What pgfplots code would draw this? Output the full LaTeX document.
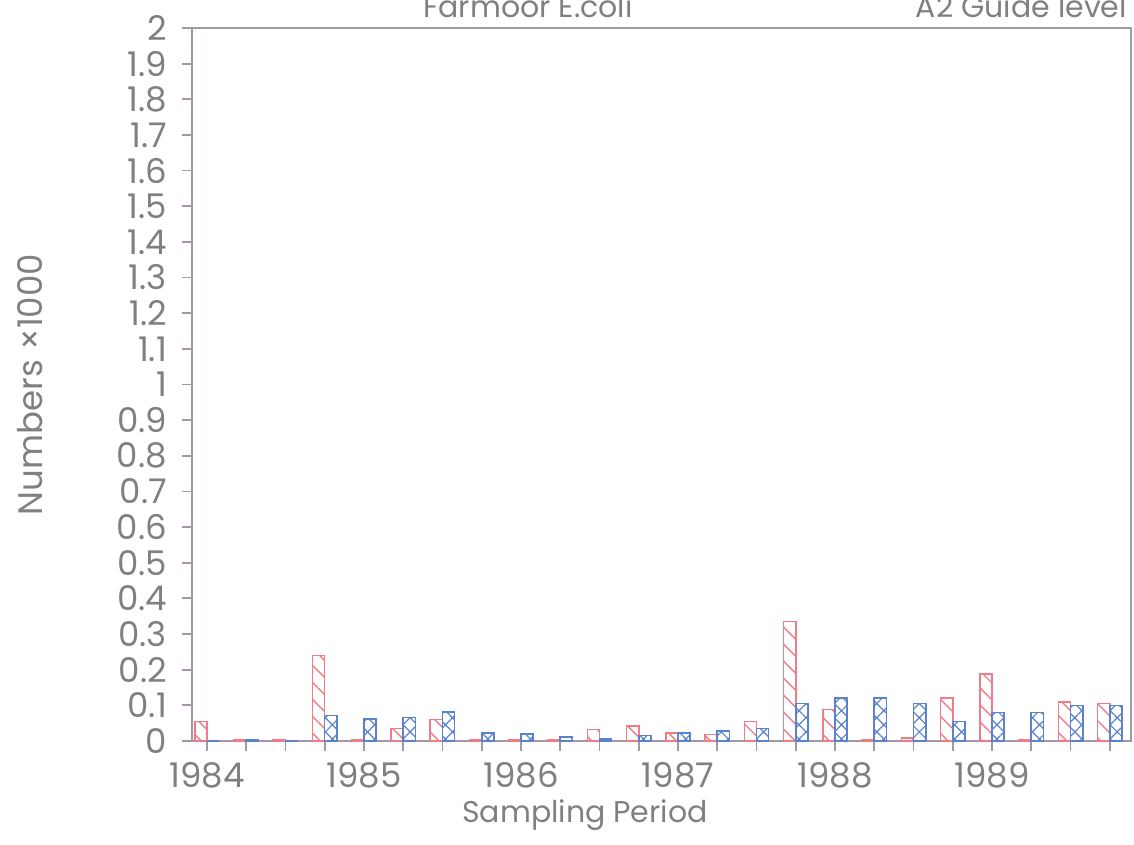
\documentclass[border=0pt]{standalone}
\usepackage{pgfplots}
\pgfplotsset{compat=1.18}
\usepackage{fontspec}
\setmainfont{Poppins}
\usetikzlibrary{patterns.meta}
\definecolor{txt}{RGB}{128,128,128}
\definecolor{ax}{RGB}{165,150,170}
\definecolor{rbar}{RGB}{238,125,135}
\definecolor{bbar}{RGB}{90,130,205}
\pgfplotstableread{
q red blue
0 0.055 0.000
1 0.002 0.002
2 0.003 0.001
3 0.240 0.072
4 0.003 0.062
5 0.035 0.066
6 0.060 0.082
7 0.002 0.022
8 0.002 0.020
9 0.002 0.012
10 0.032 0.006
11 0.042 0.015
12 0.022 0.022
13 0.018 0.028
14 0.055 0.035
15 0.335 0.105
16 0.088 0.120
17 0.003 0.120
18 0.008 0.105
19 0.120 0.055
20 0.188 0.080
21 0.003 0.080
22 0.110 0.100
23 0.105 0.100
}\datatable
\begin{document}
\begin{tikzpicture}
\path[use as bounding box] (0,0) rectangle (567pt,422.5pt);
\begin{axis}[
  at={(96pt,52pt)}, anchor=south west,
  scale only axis, width=469.5pt, height=356.5pt,
  xmin=-0.38, xmax=23.54, ymin=0, ymax=2,
  ybar, bar width=0.31,
  axis line style={ax, line width=1pt},
  tick style={ax, line width=0.9pt},
  tick align=outside,
  major tick length=5pt,
  xtick={0,...,23},
  xticklabels={1984,,,,1985,,,,1986,,,,1987,,,,1988,,,,1989,,,},
  ytick={0,0.1,0.2,0.3,0.4,0.5,0.6,0.7,0.8,0.9,1,1.1,1.2,1.3,1.4,1.5,1.6,1.7,1.8,1.9,2},
  yticklabels={0,0.1,0.2,0.3,0.4,0.5,0.6,0.7,0.8,0.9,1,1.1,1.2,1.3,1.4,1.5,1.6,1.7,1.8,1.9,2},
  xtick pos=bottom, ytick pos=left,
  ticklabel style={font=\fontsize{17}{17}\selectfont, text=txt},
  yticklabel style={xshift=-4pt},
  xticklabel style={yshift=-2pt},
  xlabel={Sampling Period}, ylabel={Numbers ×1000},
  xlabel style={font=\fontsize{15}{15}\selectfont, text=txt, at={(axis description cs:0.4185,-0.1038)}, anchor=center},
  ylabel style={font=\fontsize{17}{17}\selectfont, text=txt, at={(axis description cs:-0.1725,0.5)}, anchor=center},
  clip=false,
]
\addplot[draw=rbar, line width=0.8pt, bar shift=-0.155,
  pattern={Lines[angle=-45,distance=6pt,line width=0.7pt]}, pattern color=rbar]
  table[x=q, y=red] {\datatable};
\addplot[draw=bbar, line width=0.8pt, bar shift=0.155,
  pattern={Hatch[angle=45,distance=5pt,line width=0.6pt]}, pattern color=bbar]
  table[x=q, y=blue] {\datatable};
\end{axis}
\node[anchor=base, text=txt, font=\fontsize{15}{15}\selectfont] at (264pt,413.5pt) {Farmoor E.coli};
\node[anchor=base east, text=txt, font=\fontsize{15}{15}\selectfont] at (567pt,413.5pt) {A2 Guide level};
\end{tikzpicture}
\end{document}
